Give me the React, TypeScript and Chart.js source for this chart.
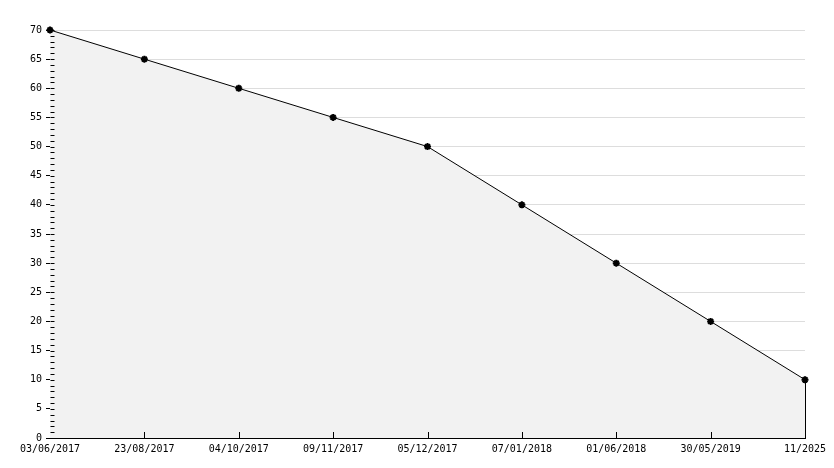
import React, { useEffect, useRef } from "react";
import { Chart, registerables } from "chart.js";

Chart.register(...registerables);

const categories = [
  "03/06/2017",
  "23/08/2017",
  "04/10/2017",
  "09/11/2017",
  "05/12/2017",
  "07/01/2018",
  "01/06/2018",
  "30/05/2019",
  "11/2025",
];
const values = [70, 65, 60, 55, 50, 40, 30, 20, 10];
const yMin = 0;
const yMax = 70;
const yStep = 5;

const insideTicks = {
  id: "insideTicks",
  afterDatasetsDraw(chart: any) {
    const { ctx, chartArea, scales } = chart;
    const y = scales.y;
    const x = scales.x;
    ctx.save();
    ctx.strokeStyle = "#000";
    ctx.lineWidth = 1;
    ctx.beginPath();
    const left = Math.round(chartArea.left) + 0.5;
    for (let v = yMin; v <= yMax; v++) {
      const py = Math.round(y.getPixelForValue(v)) + 0.5;
      ctx.moveTo(left, py);
      ctx.lineTo(left + 4, py);
    }
    const bottom = Math.round(chartArea.bottom);
    for (let i = 1; i < categories.length; i++) {
      const px = Math.round(x.getPixelForValue(i)) + 0.5;
      ctx.moveTo(px, bottom);
      ctx.lineTo(px, bottom - 6);
    }
    const last = categories.length - 1;
    const lx = Math.round(x.getPixelForValue(last)) + 0.5;
    ctx.moveTo(lx, y.getPixelForValue(values[last]));
    ctx.lineTo(lx, bottom);
    ctx.stroke();
    ctx.restore();
  },
};

export default function App() {
  const ref = useRef<HTMLCanvasElement>(null);
  useEffect(() => {
    document.body.style.margin = "0";
    const chart = new Chart(ref.current!, {
      type: "line",
      data: {
        labels: categories,
        datasets: [
          {
            data: values,
            borderColor: "#000",
            borderWidth: 1,
            backgroundColor: "#f2f2f2",
            fill: "origin",
            tension: 0,
            clip: false,
            pointStyle: "star",
            pointRadius: 3.5,
            pointBorderWidth: 2,
            pointBorderColor: "#000",
            pointBackgroundColor: "#000",
          },
        ],
      },
      options: {
        animation: false,
        responsive: false,
        maintainAspectRatio: false,
        layout: { padding: { top: 30, right: 29, left: 0, bottom: 0 } },
        plugins: { legend: { display: false }, tooltip: { enabled: false } },
        scales: {
          x: {
            offset: false,
            grid: { display: false, drawTicks: false },
            border: { display: true, color: "#000", width: 1 },
            ticks: {
              color: "#000",
              font: { family: "DejaVu Sans Mono", size: 10 },
              padding: 5,
              maxRotation: 0,
              autoSkip: false,
            },
            afterFit(scale: any) {
              scale.height = 30;
            },
          },
          y: {
            min: yMin,
            max: yMax,
            grid: {
              color: "#dddddd",
              tickColor: "#000",
              tickLength: 4,
              drawTicks: true,
            },
            border: { display: true, color: "#000", width: 1 },
            ticks: {
              stepSize: yStep,
              color: "#000",
              font: { family: "DejaVu Sans Mono", size: 10 },
              padding: 4,
            },
            afterFit(scale: any) {
              scale.width = 50;
            },
          },
        },
      },
      plugins: [insideTicks],
    });
    return () => chart.destroy();
  }, []);
  return (
    <div style={{ width: 834, height: 468 }}>
      <canvas ref={ref} width={834} height={468} />
    </div>
  );
}
